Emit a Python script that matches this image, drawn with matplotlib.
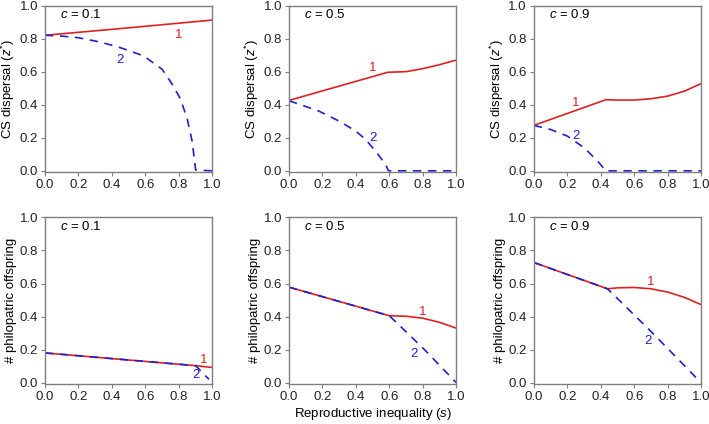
import numpy as np
import matplotlib.pyplot as plt

plt.rcParams['font.family'] = ['Liberation Sans', 'DejaVu Sans']
plt.rcParams['mathtext.fontset'] = 'custom'
plt.rcParams['mathtext.it'] = 'Liberation Sans:italic'
plt.rcParams['mathtext.rm'] = 'Liberation Sans'

RED = '#e02020'
BLUE = '#2020d0'
FRAME = '#7f7f7f'

costs = [0.1, 0.5, 0.9]

# top row: CS dispersal z*, curve 1 (red) and curve 2 (blue dashed)
z1_s = [[0.0, 0.5, 1.0],
        [0.0, 0.59, 0.7, 0.8, 0.9, 1.0],
        [0.0, 0.43, 0.5, 0.6, 0.7, 0.8, 0.9, 1.0]]
z1_v = [[0.82, 0.865, 0.912],
        [0.426, 0.596, 0.60, 0.618, 0.642, 0.67],
        [0.275, 0.43, 0.428, 0.428, 0.436, 0.452, 0.482, 0.528]]

z2_s = [[0.0, 0.1, 0.2, 0.33, 0.45, 0.59, 0.7, 0.76, 0.81, 0.85, 0.88, 0.9, 1.0],
        [0.0, 0.175, 0.295, 0.395, 0.455, 0.515, 0.575, 0.595, 1.0],
        [0.0, 0.1, 0.2, 0.3, 0.38, 0.43, 1.0]]
z2_v = [[0.82, 0.815, 0.805, 0.779, 0.745, 0.695, 0.614, 0.524, 0.434, 0.313, 0.175, 0.005, 0.0],
        [0.424, 0.363, 0.303, 0.243, 0.193, 0.122, 0.042, 0.0, 0.0],
        [0.275, 0.25, 0.21, 0.14, 0.06, 0.0, 0.0]]

# bottom row: number of philopatric offspring
p1_s = [[0.0, 0.9, 1.0],
        [0.0, 0.6, 0.7, 0.8, 0.9, 1.0],
        [0.0, 0.44, 0.5, 0.6, 0.7, 0.8, 0.9, 1.0]]
p1_v = [[0.18, 0.103, 0.092],
        [0.578, 0.405, 0.402, 0.39, 0.365, 0.33],
        [0.727, 0.568, 0.574, 0.576, 0.568, 0.548, 0.516, 0.472]]

p2_s = [[0.0, 0.9, 0.98],
        [0.0, 0.6, 0.8, 1.0],
        [0.0, 0.44, 0.7, 0.98]]
p2_v = [[0.18, 0.103, 0.02],
        [0.578, 0.405, 0.21, 0.0],
        [0.727, 0.568, 0.31, 0.02]]

# curve label positions (s, value) per panel
top_lab1 = [(0.80, 0.82), (0.50, 0.62), (0.25, 0.41)]
top_lab2 = [(0.45, 0.67), (0.50, 0.20), (0.25, 0.21)]
bot_lab1 = [(0.95, 0.14), (0.80, 0.43), (0.70, 0.61)]
bot_lab2 = [(0.90, 0.045), (0.75, 0.175), (0.68, 0.25)]

fig = plt.figure(figsize=(7.09, 4.24), dpi=100)
lefts = [0.0635, 0.4076, 0.753]
width = 0.236
bottoms = [0.594, 0.0943]
height = 0.393


def style(ax):
    ax.set_xlim(0, 1)
    ax.set_ylim(-0.008, 1.0)
    ax.set_xticks(np.arange(0, 1.01, 0.2))
    ax.set_yticks(np.arange(0, 1.01, 0.2))
    ax.xaxis.set_major_formatter(plt.FormatStrFormatter('%.1f'))
    ax.yaxis.set_major_formatter(plt.FormatStrFormatter('%.1f'))
    for sp in ax.spines.values():
        sp.set_color(FRAME)
        sp.set_linewidth(1.0)
    ax.tick_params(direction='out', length=3, width=0.8, color=FRAME,
                   labelsize=9.5, labelcolor='#222222', pad=2)
    ax.yaxis.set_label_coords(-0.165, 0.5)


for i, c in enumerate(costs):
    ax = fig.add_axes([lefts[i], bottoms[0], width, height])
    ax.plot(z1_s[i], z1_v[i], color=RED, lw=1.2)
    ax.plot(z2_s[i], z2_v[i], color=BLUE, lw=1.2, dashes=(5, 4))
    ax.text(top_lab1[i][0], top_lab1[i][1], '1', color=RED, fontsize=9.5, ha='center', va='center')
    ax.text(top_lab2[i][0], top_lab2[i][1], '2', color=BLUE, fontsize=9.5, ha='center', va='center')
    ax.text(0.09, 0.945, '$c$ = %.1f' % c, transform=ax.transAxes, fontsize=9.5, va='center')
    ax.set_ylabel('CS dispersal ($z^{*}$)', fontsize=9.5)
    style(ax)

    ax = fig.add_axes([lefts[i], bottoms[1], width, height])
    ax.plot(p1_s[i], p1_v[i], color=RED, lw=1.2)
    ax.plot(p2_s[i], p2_v[i], color=BLUE, lw=1.2, dashes=(5, 4))
    ax.text(bot_lab1[i][0], bot_lab1[i][1], '1', color=RED, fontsize=9.5, ha='center', va='center')
    ax.text(bot_lab2[i][0], bot_lab2[i][1], '2', color=BLUE, fontsize=9.5, ha='center', va='center')
    ax.text(0.09, 0.945, '$c$ = %.1f' % c, transform=ax.transAxes, fontsize=9.5, va='center')
    ax.set_ylabel('# philopatric offspring', fontsize=9.5)
    if i == 1:
        ax.set_xlabel('Reproductive inequality ($s$)', fontsize=9.5, labelpad=2)
    style(ax)

fig.savefig('out.png', dpi=100)
